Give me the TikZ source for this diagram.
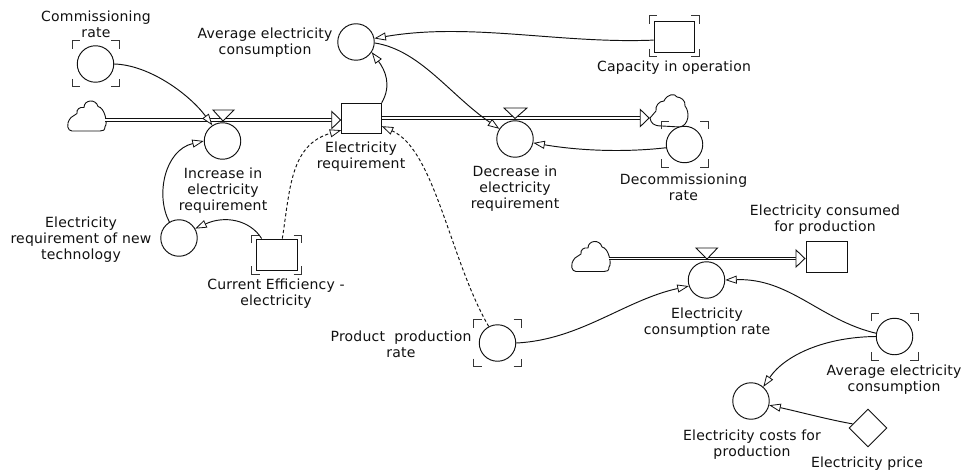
\documentclass[tikz,border=0pt]{standalone}
\usepackage{fontspec}
\setmainfont[LetterSpace=1.5]{DejaVu Sans}
\usetikzlibrary{arrows.meta,shapes.geometric,calc}
\definecolor{ink}{HTML}{111111}
\tikzset{
  base/.style={draw=ink,line width=0.95pt,fill=white,inner sep=0pt},
  aux/.style={base,circle,minimum size=36.5pt},
  stockbox/.style={base,rectangle,minimum width=#1,minimum height=30pt},
  stockbox/.default=40pt,
  rhomb/.style={base,diamond,minimum width=38pt,minimum height=38pt},
  lab/.style={align=center,inner sep=0pt,text=ink,font=\fontsize{14}{16}\selectfont},
  link/.style={draw=ink,line width=0.95pt,-{Triangle[length=11.5pt,width=8pt,fill=white,line width=0.8pt]}},
  dlink/.style={link,dash pattern=on 3.2pt off 2.4pt},
  pipe/.style={draw=ink,line width=0.9pt,double=white,double distance=1.9pt,-{Triangle[length=10pt,width=19pt,fill=white,line width=0.9pt]}},
  valve/.style={draw=ink,line width=0.9pt,fill=white},
  ghostmark/.style={draw=ink!85,line width=1pt},
  cloudline/.style={draw=ink,line width=0.9pt,fill=white,line join=round},
  anchorbox/.style={inner sep=0pt,minimum width=38pt,minimum height=20pt}
}
\newcommand{\ghostcorners}[3]{%
  \draw[ghostmark] ([shift={(-#2,-#3+8)}]#1.center) -- ++(0,-8) -- ++(8,0);
  \draw[ghostmark] ([shift={(#2-8,-#3)}]#1.center) -- ++(8,0) -- ++(0,8);
  \draw[ghostmark] ([shift={(-#2,#3-8)}]#1.center) -- ++(0,8) -- ++(8,0);
  \draw[ghostmark] ([shift={(#2-8,#3)}]#1.center) -- ++(8,0) -- ++(0,-8);
}
\newcommand{\cloudshape}[2]{%
  \draw[cloudline,shift={(#1,#2)}] (33,30.5) -- (5,30.5) .. controls (1,30.5) and (-2,24) .. (4,17)
    .. controls (6,15) and (8,15) .. (10,13) .. controls (9,9) and (13,6) .. (17,7)
    .. controls (17,-1) and (29,-2) .. (31,6) .. controls (38,7) and (41,24) .. (38,26)
    .. controls (38,30) and (36,30.5) .. (33,30.5) -- cycle;
}
\begin{document}
\begin{tikzpicture}[x=1pt,y=-1pt]
\useasboundingbox (0,0) rectangle (965,473);
\fill[white] (0,0) rectangle (965,473);

% clouds
\cloudshape{67}{100.5}
\cloudshape{571}{241}
\draw[cloudline] (650,118) .. controls (651,123) and (653,126) .. (662,126) -- (680,127)
  .. controls (689,125) and (690,112) .. (685,106) .. controls (686,100) and (680,97) .. (677,97)
  .. controls (675,93) and (667,94) .. (664,101) .. controls (659,101) and (655,106) .. (656,111) -- cycle;
\node[anchorbox] (c1) at (86,120) {};
\node[anchorbox] (c2) at (669,118) {};
\node[anchorbox] (c3) at (589.5,258.5) {};

% stocks and others
\node[stockbox=39.5pt] (stock) at (361.5,118) {};
\node[stockbox=41pt,minimum height=31pt] (sfp) at (826.5,256.5) {};
\node[stockbox=40pt,minimum height=31pt] (cap) at (674,36.5) {};
\node[stockbox=41pt,minimum height=31pt] (eff) at (276.5,254.5) {};

% pipes
\draw[pipe] (c1.east) -- (c1.east -| stock.west);
\draw[pipe] (stock.east) -- (c2.west);
\draw[pipe] (c3.east) -- (c3.east -| sfp.west);

% valves
\draw[valve] (213,110) -- (234,110) -- (223,121) -- cycle;
\draw[valve] (504,108) -- (527,108) -- (515,118.5) -- cycle;
\draw[valve] (696,248) -- (717.5,248) -- (707,259) -- cycle;

% auxiliaries
\node[aux] (comm) at (95.5,64) {};
\node[aux] (avg) at (356,42) {};
\node[aux] (inc) at (222.5,141) {};
\node[aux] (dec) at (515,139) {};
\node[aux] (decom) at (684.5,144.5) {};
\node[aux] (newt) at (179,238) {};
\node[aux] (prod) at (497.5,343) {};
\node[aux] (cons) at (706.5,280) {};
\node[aux] (avgb) at (894.5,336.5) {};
\node[aux] (cost) at (751,401) {};
\node[rhomb] (price) at (868,428) {};

% ghost marks
\ghostcorners{comm}{23.5}{23}
\ghostcorners{cap}{25}{20.5}
\ghostcorners{decom}{23.5}{23}
\ghostcorners{eff}{25}{19.5}
\ghostcorners{prod}{24}{23.5}
\ghostcorners{avgb}{23.5}{23.5}

% connectors
\draw[link] (comm.0) .. controls (150,65) and (190,95) .. (inc.123);
\draw[link] (newt.121) .. controls (155,195) and (165,150) .. (inc.180);
\draw[link] (eff.133) .. controls (250,220) and (225,215) .. (newt.30);
\draw[dlink] (eff.70) .. controls (290,190) and (290,145) .. (stock.211.6);
\draw[dlink] (prod.118) .. controls (450,260) and (435,150) .. (stock.-22.3);
\draw[link] (stock.37.6) .. controls (392,85) and (385,70) .. (avg.-33);
\draw[link] (cap.190) .. controls (560,44) and (470,22) .. (avg.11);
\draw[link] (avg.-3) .. controls (420,50) and (450,95) .. (dec.147);
\draw[link] (decom.190) .. controls (620,153) and (575,150) .. (dec.-12);
\draw[link] (prod.0) .. controls (580,340) and (625,300) .. (cons.199);
\draw[link] (avgb.170) .. controls (820,320) and (790,278) .. (cons.0);
\draw[link] (avgb.180) .. controls (825,337) and (785,355) .. (cost.49);
\draw[link] (price.165) .. controls (830,420) and (800,412) .. (cost.-13);

% labels
\node[lab] (lcomm) at (96,24.5) {Commissioning\\rate};
\node[lab] (lavg) at (265,42.5) {Average electricity\\consumption};
\node[lab] (lcap) at (674,68) {Capacity in operation};
\node[lab] (lstock) at (361,157) {Electricity\\requirement};
\node[lab] (linc) at (223,191) {Increase in\\electricity\\requirement};
\node[lab] (ldec) at (515,188.5) {Decrease in\\electricity\\requirement};
\node[lab] (ldecom) at (683.5,187.5) {Decommissioning\\rate};
\node[lab] (lnewt) at (81,240) {Electricity\\requirement of new\\technology};
\node[lab] (leff) at (276,293.5) {Current Efficiency -\\electricity};
\node[lab] (lprod) at (401,344.5) {Product\ \ production\\rate};
\node[lab] (lsfp) at (825,220) {Electricity consumed\\for production};
\node[lab] (lcons) at (707,322.5) {Electricity\\consumption rate};
\node[lab] (lavgb) at (894,380) {Average electricity\\consumption};
\node[lab] (lcost) at (752,444.5) {Electricity costs for\\production};
\node[lab] (lprice) at (867,464) {Electricity price};
\end{tikzpicture}
\end{document}
